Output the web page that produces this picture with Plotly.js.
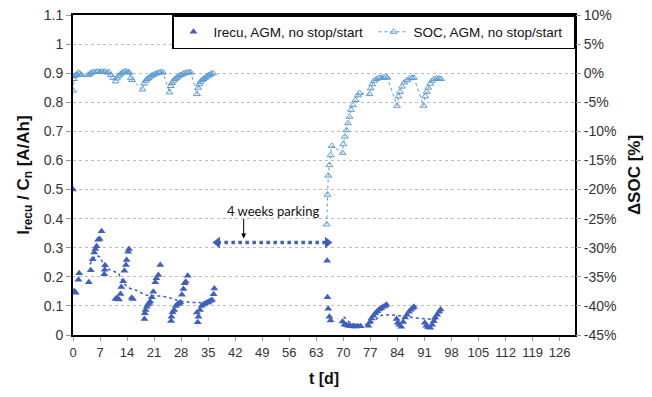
<!DOCTYPE html>
<html>
<head>
<meta charset="utf-8">
<script src="https://cdn.plot.ly/plotly-3.0.1.min.js"></script>
<style>html,body{margin:0;padding:0;background:#fff;}#chart{width:652px;height:397px;}</style>
</head>
<body>
<div id="chart"></div>
<script>
// ---- Irecu / Cn [A/Ah] (filled triangles) ----
const irecuT = [0, 0.3, 0.5, 0.7, 1.4, 1.6, 4.1, 4.6, 5.1, 5.5, 5.8, 6.1, 6.5, 6.9, 7.4, 8.1, 8.2, 8.3,
  11.0, 11.3, 11.6, 11.9, 12.3, 12.5, 13.0, 13.3, 13.7, 13.9, 14.3, 14.5, 15.2, 15.5,
  18.5, 18.6, 18.8, 19.1, 19.4, 19.7, 20.0, 20.4, 20.8, 21.3, 21.6, 22.1, 22.6,
  25.4, 25.5, 25.8, 26.2, 26.6, 27.0, 27.4, 27.8, 28.2, 28.6, 28.9, 29.2, 29.7,
  32.1, 32.3, 32.5, 32.9, 33.3, 33.8, 34.2, 34.7, 35.1, 35.6, 36.0, 36.4, 36.6,
  65.8, 65.9, 66.1, 66.4, 66.7, 69.8, 70.3, 70.8, 71.3, 71.8, 72.3, 72.8, 73.3, 73.8, 74.5,
  76.5, 76.9, 77.3, 77.8, 78.3, 78.8, 79.3, 79.8, 80.3, 80.8, 81.2,
  83.8, 84.1, 84.5, 85.0, 85.5, 86.0, 86.5, 87.0, 87.5, 88.0, 88.3,
  91.1, 91.5, 92.0, 92.5, 93.0, 93.4, 93.8, 94.3, 94.8, 95.2];
const irecuV = [0.50, 0.150, 0.148, 0.145, 0.190, 0.212, 0.181, 0.223, 0.260, 0.284, 0.296, 0.305, 0.327, 0.330, 0.357, 0.209, 0.224, 0.240,
  0.124, 0.126, 0.124, 0.122, 0.141, 0.165, 0.185, 0.221, 0.241, 0.258, 0.286, 0.296, 0.128, 0.124,
  0.055, 0.075, 0.086, 0.097, 0.105, 0.110, 0.115, 0.130, 0.149, 0.181, 0.195, 0.206, 0.241,
  0.048, 0.063, 0.078, 0.086, 0.100, 0.105, 0.108, 0.112, 0.138, 0.158, 0.178, 0.183, 0.204,
  0.077, 0.044, 0.063, 0.086, 0.100, 0.105, 0.108, 0.112, 0.114, 0.118, 0.120, 0.140, 0.160,
  0.255, 0.130, 0.090, 0.063, 0.050, 0.046, 0.036, 0.034, 0.032, 0.031, 0.030, 0.029, 0.029, 0.030, 0.030,
  0.032, 0.045, 0.057, 0.066, 0.075, 0.082, 0.088, 0.092, 0.097, 0.100, 0.104,
  0.055, 0.042, 0.035, 0.028, 0.045, 0.060, 0.070, 0.080, 0.087, 0.093, 0.097,
  0.042, 0.032, 0.027, 0.025, 0.035, 0.047, 0.060, 0.070, 0.080, 0.088];

// ---- moving-average trend of Irecu (dotted) ----
const trendT = [4.4, 5.2, 5.9, 7.0, 8.3, 10.0, 11.8, 13.0, 14.8, 16.9, 18.7, 20.4, 23.0, 25.6, 27.3, 30.8, 34.2, 35.9, null,
  70.1, 71.5, 73.0, 75.0, 77.0, 78.5, 80.0, 82.0, 84.0, 86.0, 88.0, 90.0, 92.0, 94.6];
const trendV = [0.243, 0.262, 0.273, 0.269, 0.231, 0.223, 0.212, 0.178, 0.160, 0.151, 0.1375, 0.135, 0.134, 0.126, 0.117, 0.112, 0.111, 0.107, null,
  0.063, 0.045, 0.036, 0.033, 0.040, 0.055, 0.068, 0.070, 0.066, 0.062, 0.060, 0.057, 0.055, 0.052];

// ---- delta SOC [%] (open triangles, right axis) ----
const socT = [0, 0.2, 0.4, 0.7, 1.0, 1.4, 1.8, 2.2,
  4.0, 4.4, 4.8, 5.3, 5.8, 6.3, 6.8, 7.3, 7.8, 8.3, 8.8, 9.3, 9.8, 10.4, 11.0,
  11.4, 11.8, 12.2, 12.6, 13.0, 13.4, 13.8, 14.2, 14.6, 15.0, 15.3,
  18.0, 18.4, 18.8, 19.2, 19.6, 20.0, 20.4, 20.8, 21.3, 21.8, 22.3, 22.8, 23.3,
  25.0, 25.3, 25.6, 26.0, 26.4, 26.8, 27.2, 27.6, 28.0, 28.5, 29.0, 29.5, 30.0, 30.5,
  32.1, 32.4, 32.7, 33.0, 33.4, 33.8, 34.2, 34.6, 35.0, 35.4, 35.8, 36.3, null,
  65.7, 65.9, 66.1, 66.4, 66.7, 67.0, 69.8, 70.0, 70.4, 70.8, 71.2, 71.6, 72.0, 72.5, 73.2, 73.8, 74.2,
  76.8, 77.1, 77.5, 78.0, 78.6, 79.2, 79.8, 80.4, 81.0, 81.4,
  83.9, 84.3, 84.7, 85.2, 85.8, 86.5, 87.2, 87.8, 88.3,
  90.8, 91.2, 91.6, 92.0, 92.5, 93.0, 93.6, 94.2, 94.8, 95.3];
const socV = [-3.0, -1.0, -0.5, -0.3, -0.2, 0.1, -0.1, -0.3,
  -0.3, -0.1, 0.1, 0.2, 0.2, 0.3, 0.2, 0.3, 0.2, 0.3, 0.1, 0.2, -0.3, -0.8, -1.4,
  -0.9, -0.5, -0.2, 0.0, 0.2, 0.3, 0.3, 0.2, 0.1, -0.8, -1.2,
  -2.8, -1.8, -1.3, -1.0, -0.8, -0.6, -0.4, -0.3, -0.1, 0.0, 0.1, 0.2, 0.1,
  -3.3, -2.2, -1.7, -1.3, -1.0, -0.8, -0.6, -0.4, -0.3, -0.1, 0.0, 0.1, 0.2, 0.1,
  -3.6, -2.5, -1.9, -1.5, -1.2, -1.0, -0.8, -0.6, -0.4, -0.3, -0.1, 0.0, null,
  -26.0, -20.9, -17.6, -15.8, -14.1, -12.5, -13.7, -12.2, -10.9, -9.8, -8.6, -7.5, -6.3, -5.5, -4.6, -3.8, -3.4,
  -3.6, -2.6, -1.9, -1.3, -1.0, -0.8, -0.8, -0.7, -0.6, -0.8,
  -5.6, -4.0, -3.2, -2.3, -1.6, -1.2, -0.9, -0.8, -0.8,
  -5.6, -4.0, -3.2, -2.5, -1.8, -1.3, -1.0, -0.9, -0.9, -1.0];

// ---- axis ticks ----
const xTicks = [0, 7, 14, 21, 28, 35, 42, 49, 56, 63, 70, 77, 84, 91, 98, 105, 112, 119, 126];
const y2Vals = [-45, -40, -35, -30, -25, -20, -15, -10, -5, 0, 5, 10];
const y2Text = ['-45%', '-40%', '-35%', '-30%', '-25%', '-20%', '-15%', '-10%', '-5%', '0%', '5%', '10%'];

// ---- annotation: parking period ----
const parkT = [37.4, 65.9];
const parkV = [0.318, 0.318];

const dark = '#3F5FBF';
const light = '#5B9BD5';
const font = 'Liberation Sans, Arial, sans-serif';

const traces = [
  {x: irecuT, y: irecuV, type: 'scatter', mode: 'markers', name: 'Irecu, AGM, no stop/start',
   marker: {symbol: 'triangle-up', size: 7, color: dark}},
  {x: socT, y: socV, type: 'scatter', mode: 'lines+markers', yaxis: 'y2', name: 'SOC, AGM, no stop/start',
   connectgaps: false,
   line: {color: light, width: 1, dash: 'dot'},
   marker: {symbol: 'triangle-up-open', size: 6, color: light, line: {width: 1, color: light}}},
  {x: trendT, y: trendV, type: 'scatter', mode: 'lines', showlegend: false, connectgaps: false,
   line: {color: dark, width: 1.5, dash: 'dot'}, hoverinfo: 'skip'},
  {x: parkT, y: parkV, type: 'scatter', mode: 'lines+markers', showlegend: false,
   line: {color: dark, width: 3.5, dash: 'dot'},
   marker: {symbol: ['triangle-left', 'triangle-right'], size: 10, color: dark}, hoverinfo: 'skip'}
];

const layout = {
  width: 652, height: 397,
  margin: {l: 73, r: 77, t: 15, b: 62},
  paper_bgcolor: '#fff', plot_bgcolor: '#fff',
  font: {family: font, size: 13, color: '#222'},
  showlegend: true,
  legend: {orientation: 'h', x: 1, xanchor: 'right', y: 1, yanchor: 'top',
    bgcolor: '#fff', bordercolor: '#000', borderwidth: 1.5,
    font: {family: font, size: 13.5, color: '#111'},
    entrywidth: 155, entrywidthmode: 'pixels'},
  xaxis: {range: [0, 130], tickvals: xTicks, ticks: 'outside', ticklen: 4, tickcolor: '#999',
    showgrid: false, zeroline: false, showline: true, linecolor: '#000', linewidth: 2, mirror: true,
    tickfont: {family: font, size: 13, color: '#333'},
    title: {text: '<b>t [d]</b>', font: {family: font, size: 16, color: '#111'}, standoff: 14}},
  yaxis: {range: [0, 1.1], dtick: 0.1, tick0: 0, ticks: 'outside', ticklen: 5, tickcolor: '#999',
    showgrid: true, gridcolor: '#bbb', griddash: 'dot', gridwidth: 1, zeroline: false,
    showline: true, linecolor: '#000', linewidth: 2, mirror: true,
    tickfont: {family: font, size: 14, color: '#333'},
    title: {text: '<b>I<sub>recu</sub> / C<sub>n</sub> [A/Ah]</b>', font: {family: font, size: 17, color: '#111'}, standoff: 10}},
  yaxis2: {range: [-45, 10], overlaying: 'y', side: 'right', tickvals: y2Vals, ticktext: y2Text,
    ticks: 'outside', ticklen: 5, tickcolor: '#999', showgrid: false, zeroline: false, showline: false,
    tickfont: {family: font, size: 14, color: '#333'},
    title: {text: '<b>ΔSOC [%]</b>', font: {family: font, size: 17, color: '#111'}, standoff: 12}},
  annotations: [
    {x: 51.9, y: 0.426, xref: 'x', yref: 'y', text: '4 weeks parking', showarrow: false,
     font: {family: 'Lato, sans-serif', size: 13, color: '#111'}},
    {x: 44.2, y: 0.332, xref: 'x', yref: 'y', ax: 0, ay: -21, text: '', showarrow: true,
     arrowhead: 2, arrowsize: 1, arrowwidth: 1, arrowcolor: '#000'}
  ]
};

Plotly.newPlot('chart', traces, layout, {displayModeBar: false, staticPlot: true});
</script>
</body>
</html>
